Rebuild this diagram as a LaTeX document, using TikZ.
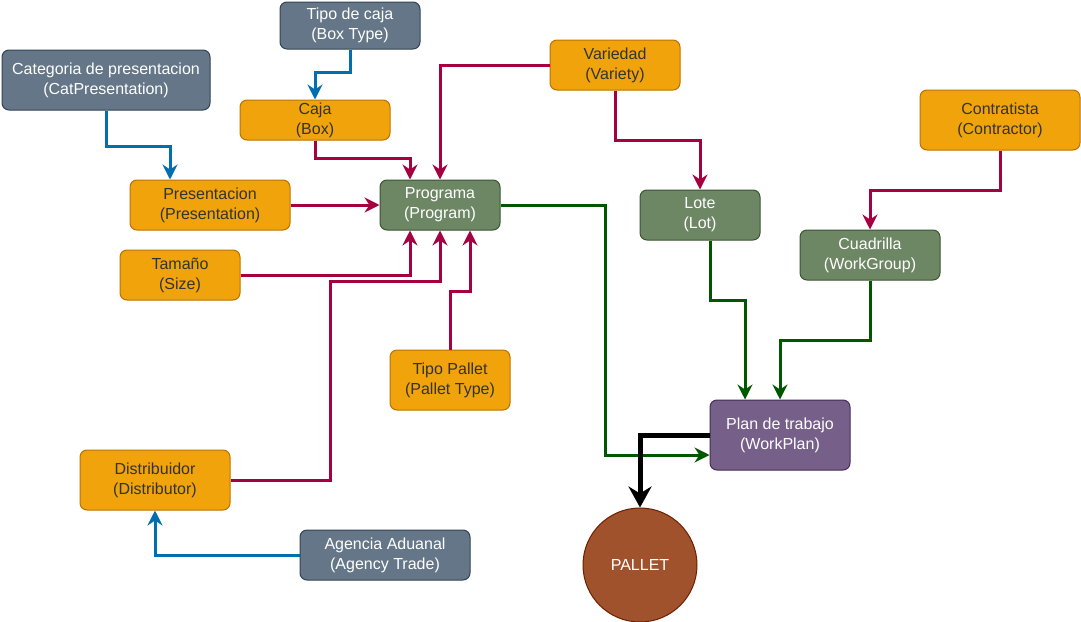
\documentclass[tikz,border=0pt]{standalone}
\usepackage{fontspec}
\setmainfont{Liberation Sans}
\usetikzlibrary{arrows.meta}
\definecolor{orFill}{HTML}{F0A30A}\definecolor{orLine}{HTML}{BD7000}
\definecolor{slFill}{HTML}{647687}\definecolor{slLine}{HTML}{314354}
\definecolor{grFill}{HTML}{6D8764}\definecolor{grLine}{HTML}{3A5431}
\definecolor{puFill}{HTML}{76608A}\definecolor{puLine}{HTML}{432D57}
\definecolor{brFill}{HTML}{A0522D}\definecolor{brLine}{HTML}{6D1F00}
\definecolor{cBlue}{HTML}{006EAF}\definecolor{cRed}{HTML}{A50040}
\definecolor{cGreen}{HTML}{005700}
\tikzset{
  box/.style={rectangle, rounded corners=7pt, line width=1pt, align=center,
    font=\fontsize{16}{20}\selectfont, inner sep=0pt},
  orbox/.style={box, fill=orFill, draw=orLine, text=black!80},
  slbox/.style={box, fill=slFill, draw=slLine, text=white},
  grbox/.style={box, fill=grFill, draw=grLine, text=white},
  pubox/.style={box, fill=puFill, draw=puLine, text=white},
  wire/.style={line width=3pt, -{Stealth[length=15pt,width=15pt,inset=5pt]}},
  bl/.style={wire, draw=cBlue, cBlue},
  rd/.style={wire, draw=cRed, cRed},
  gn/.style={wire, draw=cGreen, cGreen},
  bk/.style={line width=5pt, -{Stealth[length=21pt,width=23pt,inset=7pt]}},
}
\begin{document}
\begin{tikzpicture}[x=1pt,y=-1pt]
\useasboundingbox (0,0) rectangle (1081,621);
% entities
\node[slbox, minimum width=140pt, minimum height=47pt] (tcaja) at (350,25.5) {Tipo de caja\\(Box Type)};
\node[slbox, minimum width=208pt, minimum height=60pt] (cat) at (106,80) {Categoria de presentacion\\(CatPresentation)};
\node[orbox, minimum width=150pt, minimum height=40pt] (caja) at (315,120) {Caja\\(Box)};
\node[orbox, minimum width=130pt, minimum height=50pt] (var) at (615,65) {Variedad\\(Variety)};
\node[orbox, minimum width=160pt, minimum height=60pt] (contr) at (1000,120) {Contratista\\(Contractor)};
\node[orbox, minimum width=160pt, minimum height=50pt] (pres) at (210,205) {Presentacion\\(Presentation)};
\node[grbox, minimum width=120pt, minimum height=50pt] (prog) at (440,205) {Programa\\(Program)};
\node[grbox, minimum width=120pt, minimum height=50pt] (lote) at (700,215) {Lote\\(Lot)};
\node[grbox, minimum width=140pt, minimum height=50pt] (cuad) at (870,255) {Cuadrilla\\(WorkGroup)};
\node[orbox, minimum width=120pt, minimum height=50pt] (tam) at (180,275) {Tamaño\\(Size)};
\node[orbox, minimum width=120pt, minimum height=60pt] (tpal) at (450,380) {Tipo Pallet\\(Pallet Type)};
\node[pubox, minimum width=140pt, minimum height=70pt] (plan) at (780,435) {Plan de trabajo\\(WorkPlan)};
\node[orbox, minimum width=150pt, minimum height=60pt] (dist) at (155,480) {Distribuidor\\(Distributor)};
\node[slbox, minimum width=170pt, minimum height=50pt] (agen) at (385,555) {Agencia Aduanal\\(Agency Trade)};
\node[circle, minimum size=114pt, inner sep=0pt, fill=brFill, draw=brLine, line width=1pt,
  text=white, font=\fontsize{16}{20}\selectfont] (pallet) at (640,565) {PALLET};
% connectors
\draw[bl] (tcaja.south) -- ++(0,23) -| (caja.north);
\draw[bl] (cat.south) -- ++(0,36) -| ([xshift=64pt]cat.south |- pres.north);
\draw[bl] (agen.west) -| (dist.south);
\draw[rd] (caja.south) -- ++(0,18) -| ([xshift=-30pt]prog.north);
\draw[rd] (var.west) -| (prog.north);
\draw[rd] (pres.east) -- (prog.west);
\draw[rd] (tam.east) -| ([xshift=-30pt]prog.south);
\draw[rd] (dist.east) -- (330,480) -- (330,281) -| (prog.south);
\draw[rd] (tpal.north) -- ++(0,-58) -| ([xshift=30pt]prog.south);
\draw[rd] (var.south) -- ++(0,50) -| (lote.north);
\draw[rd] (contr.south) -- ++(0,40) -| (cuad.north);
\draw[gn] (prog.east) -- (605,205) |- ([yshift=-20pt]plan.west);
\draw[gn] ([xshift=10pt]lote.south) -- ++(0,60) -| ([xshift=-35pt]plan.north);
\draw[gn] (cuad.south) -- ++(0,60) -| (plan.north);
\draw[bk] (plan.west) -| (pallet.north);
\end{tikzpicture}
\end{document}
